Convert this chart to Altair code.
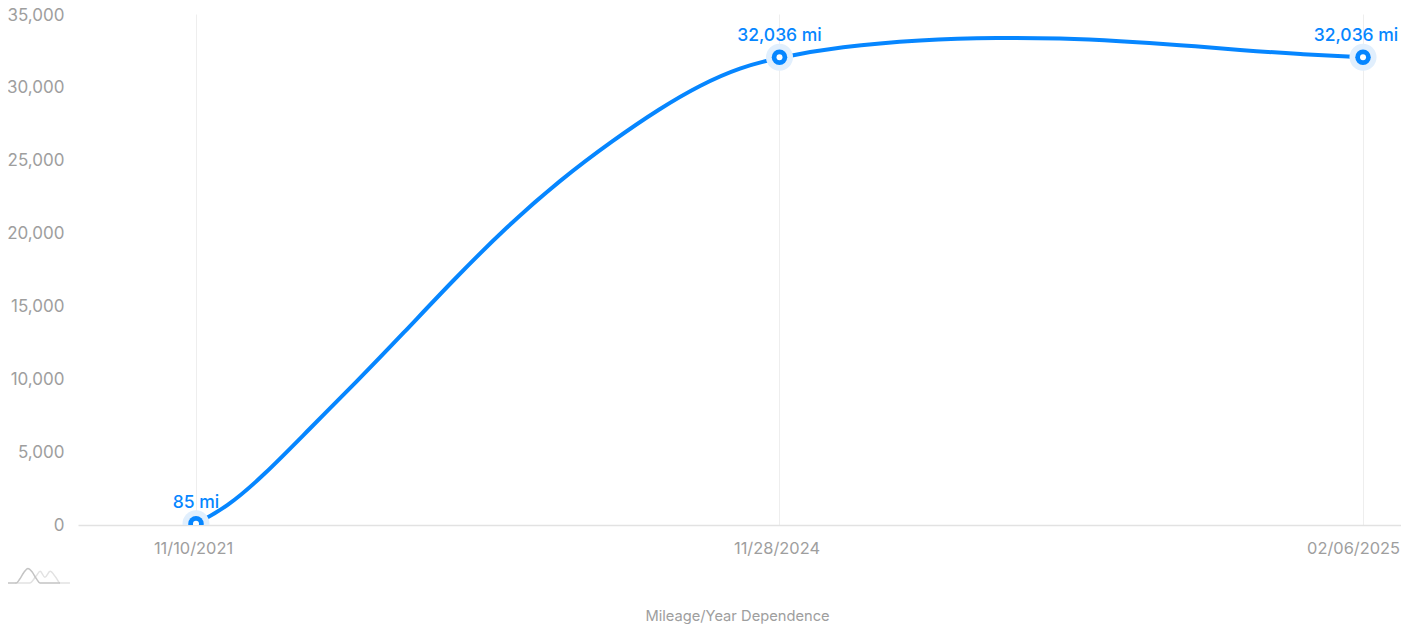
import altair as alt
import pandas as pd

dates = ["11/10/2021", "11/28/2024", "02/06/2025"]
positions = [0, 1, 2]
mileage = [85, 32036, 32036]
labels = ["85 mi", "32,036 mi", "32,036 mi"]
y_ticks = [0, 5000, 10000, 15000, 20000, 25000, 30000, 35000]

# curve
curve_x = [0, 0.0526, 0.1153, 0.1954, 0.2754, 0.3553, 0.441, 0.5325, 0.6238, 0.7152, 0.7952,
           0.8638, 0.9323, 1, 1.1037, 1.2408, 1.3779, 1.4807, 1.5835, 1.6864, 1.7892, 1.892, 2]
curve_y = [85, 1212, 3356, 6623, 9815, 13130, 16781, 20431, 23630, 26370, 28541,
           30137, 31349, 32036, 32760, 33240, 33390, 33335, 33151, 32877, 32534, 32240, 32036]

logo_dark_x = [-0.336, -0.308, -0.302, -0.295, -0.288, -0.281, -0.274, -0.267, -0.255, -0.233]
logo_dark_y = [-3973, -3973, -3700, -3250, -2980, -3200, -3650, -3973, -3973, -3973]
logo_light_x = [-0.31, -0.285, -0.274, -0.267, -0.259, -0.250, -0.240, -0.233, -0.216]
logo_light_y = [-3973, -3973, -3500, -3170, -3580, -3170, -3600, -3973, -3973]

BLUE = "#0686FF"
GREY = "#9e9e9e"
FONT = "Inter"

df = pd.DataFrame({"pos": positions, "mileage": mileage, "label": labels})
curve = pd.DataFrame({"pos": curve_x, "mileage": curve_y})
logo_dark = pd.DataFrame({"pos": logo_dark_x, "mileage": logo_dark_y})
logo_light = pd.DataFrame({"pos": logo_light_x, "mileage": logo_light_y})

x_expr = "[" + ",".join(f"'{d}'" for d in dates) + "][datum.value]"
x = alt.X(
    "pos:Q",
    scale=alt.Scale(domain=[-0.2022, 2.0651], nice=False, zero=False),
    axis=alt.Axis(
        values=positions, labelExpr=x_expr, title="Mileage/Year Dependence",
        titleX=659, titleY=91, titleAnchor="middle", titleBaseline="middle", titleAlign="center",
        titleFont=FONT, titleFontSize=14.7, titleFontWeight="normal", titleColor=GREY,
        labelFont=FONT, labelFontSize=16.4, labelColor=GREY,
        labelOffset={"condition": {"test": "datum.value == 2", "value": -10}, "value": -3},
        labelPadding=15, labelOverlap=False, labelBound=False, labelFlush=False,
        ticks=False, grid=True, gridColor="#eeeeee", gridWidth=1,
        domainColor="#e2e2e2", domainWidth=1.5,
    ),
)
y = alt.Y(
    "mileage:Q",
    scale=alt.Scale(domain=[0, 35000], nice=False, zero=False),
    axis=alt.Axis(
        values=y_ticks, format=",d", title=None, grid=False, ticks=False, domain=False,
        labelFont=FONT, labelFontSize=17, labelColor=GREY, labelPadding=14,
        labelOffset={"condition": {"test": "datum.value == 35000", "value": 1}, "value": 0},
    ),
)

base = alt.Chart(df).encode(x=x, y=y)
line = alt.Chart(curve).mark_line(color=BLUE, strokeWidth=4, interpolate="basis", clip=True).encode(
    x=x, y=y, order=alt.Order("pos:Q"))
halo = base.mark_point(filled=True, opacity=1, color="#E1EFFD", size=729, clip=True)
ring = base.mark_point(filled=True, opacity=1, color=BLUE, size=240, clip=True)
hole = base.mark_point(filled=True, opacity=1, color="#ffffff", size=36, clip=True)
text_style = dict(font=FONT, fontSize=17.5, fontWeight=500, color=BLUE)
text = base.transform_filter("datum.pos < 2").mark_text(dy=-21, **text_style).encode(text="label:N")
text_last = base.transform_filter("datum.pos == 2").mark_text(dy=-21, dx=-7, **text_style).encode(text="label:N")

dark = alt.Chart(logo_dark).mark_line(color="#c4c4c4", strokeWidth=1.5, interpolate="monotone").encode(
    x=x, y=y, order=alt.Order("pos:Q"))
light = alt.Chart(logo_light).mark_line(color="#e2e2e2", strokeWidth=1.5, interpolate="monotone").encode(
    x=x, y=y, order=alt.Order("pos:Q"))

chart = (
    alt.layer(light, dark, line, halo, ring, hole, text, text_last)
    .properties(
        width=1323, height=511,
        padding={"left": 70, "top": 6, "right": 0, "bottom": 99},
        autosize=alt.AutoSizeParams(type="none"),
        background="#ffffff",
    )
    .configure_view(stroke=None)
)
chart.save("out.html", embed_options={"renderer": "svg", "actions": False})
